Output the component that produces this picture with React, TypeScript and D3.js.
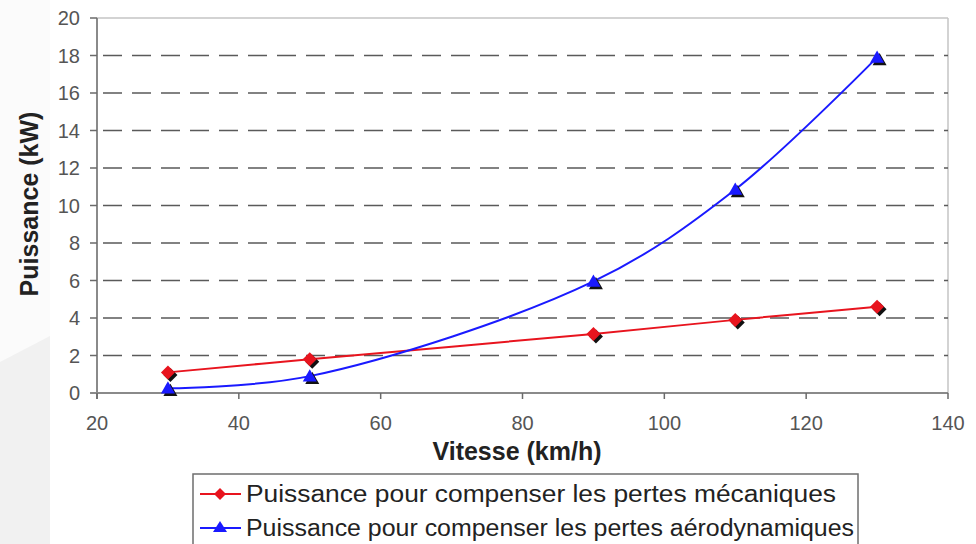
import React from "react";
import * as d3 from "d3";

const speeds = [30, 50, 90, 110, 130];
const mecaValues = [1.1, 1.8, 3.15, 3.9, 4.6];
const aeroValues = [0.25, 0.9, 5.95, 10.85, 17.9];
const xTicks = [20, 40, 60, 80, 100, 120, 140];
const yTicks = [0, 2, 4, 6, 8, 10, 12, 14, 16, 18, 20];
const legendLabels = [
  "Puissance pour compenser les pertes mécaniques",
  "Puissance pour compenser les pertes aérodynamiques",
];
const xTitle = "Vitesse (km/h)";
const yTitle = "Puissance (kW)";

const W = 976;
const H = 544;
const x = d3.scaleLinear().domain([20, 140]).range([97, 948]);
const y = d3.scaleLinear().domain([0, 20]).range([393, 18]);

const RED = "#e8141e";
const BLUE = "#1a1aff";

function Diamond({ cx, cy, s }: { cx: number; cy: number; s: number }) {
  const p = (ox: number, oy: number) =>
    `M${cx + ox},${cy + oy - s}L${cx + ox + s},${cy + oy}L${cx + ox},${cy + oy + s}L${cx + ox - s},${cy + oy}Z`;
  return (
    <g>
      <path d={p(2.5, 2.5)} fill="#111" />
      <path d={p(0, 0)} fill={RED} />
    </g>
  );
}

function Triangle({ cx, cy, s }: { cx: number; cy: number; s: number }) {
  const p = (ox: number, oy: number) =>
    `M${cx + ox},${cy + oy - s}L${cx + ox + s},${cy + oy + s * 0.75}L${cx + ox - s},${cy + oy + s * 0.75}Z`;
  return (
    <g>
      <path d={p(2.5, 2.5)} fill="#111" />
      <path d={p(0, 0)} fill={BLUE} />
    </g>
  );
}

export default function App() {
  const line = d3
    .line<[number, number]>()
    .x((d) => x(d[0]))
    .y((d) => y(d[1]))
    .curve(d3.curveCatmullRom.alpha(0.5));
  const meca: [number, number][] = speeds.map((s, i) => [s, mecaValues[i]]);
  const aero: [number, number][] = speeds.map((s, i) => [s, aeroValues[i]]);

  return (
    <div style={{ position: "absolute", left: 0, top: 0 }}>
      <svg width={W} height={H} style={{ display: "block", fontFamily: "Arial, 'Liberation Sans', sans-serif" }}>
        <rect x={0} y={0} width={W} height={H} fill="#fff" />
        <rect x={0} y={0} width={50} height={H} fill="#fbfbfb" />
        <path d="M0,362L50,336L50,544L0,544Z" fill="#f1f1f1" />

        {/* plot border */}
        <line x1={x(20)} x2={x(140)} y1={y(20)} y2={y(20)} stroke="#c4c4c4" strokeWidth={1.5} />
        <line x1={x(140)} x2={x(140)} y1={y(20)} y2={y(0)} stroke="#c4c4c4" strokeWidth={1.5} />

        {/* gridlines */}
        {yTicks
          .filter((t) => t > 0 && t < 20)
          .map((t) => (
            <line
              key={"g" + t}
              x1={x(20)}
              x2={x(140)}
              y1={y(t)}
              y2={y(t)}
              stroke="#5a5a5a"
              strokeWidth={1.5}
              strokeDasharray="19,10"
              strokeDashoffset={-6}
            />
          ))}

        {/* y axis */}
        <line x1={x(20)} x2={x(20)} y1={y(20)} y2={y(0) + 6} stroke="#8a8a8a" strokeWidth={2} />
        {yTicks.map((t) => (
          <g key={"y" + t}>
            <line x1={x(20) - 7} x2={x(20)} y1={y(t)} y2={y(t)} stroke="#6a6a6a" strokeWidth={1.5} />
            <text x={80} y={y(t)} dy="0.36em" textAnchor="end" fontSize={20} fill="#555">
              {t}
            </text>
          </g>
        ))}

        {/* x axis */}
        <line x1={x(20) - 6} x2={x(140)} y1={y(0)} y2={y(0)} stroke="#8a8a8a" strokeWidth={2} />
        {xTicks.map((t) => (
          <g key={"x" + t}>
            <line x1={x(t)} x2={x(t)} y1={y(0)} y2={y(0) + 6} stroke="#6a6a6a" strokeWidth={1.5} />
            <text x={x(t)} y={430} textAnchor="middle" fontSize={20} fill="#555">
              {t}
            </text>
          </g>
        ))}

        {/* titles */}
        <text x={517} y={460} textAnchor="middle" fontSize={25} fontWeight="bold" fill="#222">
          {xTitle}
        </text>
        <text
          transform={`translate(38,204) rotate(-90)`}
          textAnchor="middle"
          fontSize={25}
          fontWeight="bold"
          fill="#222"
        >
          {yTitle}
        </text>

        {/* series */}
        <path d={line(meca) || ""} fill="none" stroke={RED} strokeWidth={2} />
        <path d={line(aero) || ""} fill="none" stroke={BLUE} strokeWidth={2} />
        {meca.map((d, i) => (
          <Diamond key={"m" + i} cx={x(d[0])} cy={y(d[1])} s={7} />
        ))}
        {aero.map((d, i) => (
          <Triangle key={"a" + i} cx={x(d[0])} cy={y(d[1])} s={7} />
        ))}

        {/* legend */}
        <rect x={193} y={474} width={665} height={90} fill="#fff" stroke="#6e6e6e" strokeWidth={1.5} />
        <line x1={200} x2={241} y1={494} y2={494} stroke={RED} strokeWidth={2} />
        <path d="M220,488L226,494L220,500L214,494Z" fill={RED} />
        <text x={246} y={494} dy="0.36em" fontSize={23} fill="#222" textLength={590} lengthAdjust="spacingAndGlyphs">
          {legendLabels[0]}
        </text>
        <line x1={200} x2={241} y1={528} y2={528} stroke={BLUE} strokeWidth={2} />
        <path d="M220,521L227,532L213,532Z" fill={BLUE} />
        <text x={246} y={528} dy="0.36em" fontSize={23} fill="#222" textLength={608} lengthAdjust="spacingAndGlyphs">
          {legendLabels[1]}
        </text>
      </svg>
    </div>
  );
}
